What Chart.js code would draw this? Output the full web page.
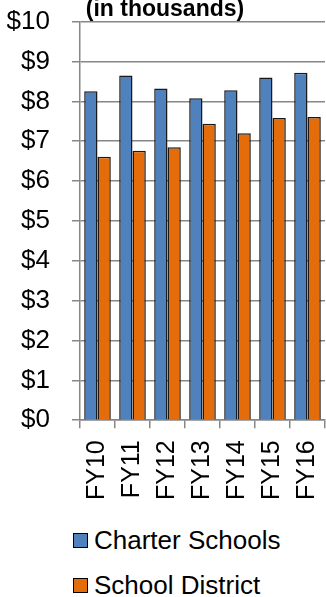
<!DOCTYPE html>
<html>
<head>
<meta charset="utf-8">
<script src="https://cdn.jsdelivr.net/npm/chart.js@4"></script>
<style>
    html, body { margin: 0; padding: 0; background: #fff; overflow: hidden; }
    body { width: 326px; height: 597px; position: relative; font-family: 'Liberation Sans', Arial, sans-serif; }
    #wrap { position: absolute; left: 0; top: -16px; width: 326px; height: 528px; }
    #legend { position: absolute; left: 73px; top: 518px; }
    .leg-item { display: flex; align-items: center; height: 45px; font-size: 26px; color: #000; }
    .leg-box { width: 15px; height: 15px; border: 1px solid #000; margin-right: 6px; box-sizing: border-box; }
</style>
</head>
<body>
<div id="wrap"><canvas id="spendChart"></canvas></div>
<div id="legend"></div>
<script>
    // 年度ごとの1人あたり支出（千ドル）
    const years = ['FY10', 'FY11', 'FY12', 'FY13', 'FY14', 'FY15', 'FY16'];
    const charterSchools = [8.25, 8.65, 8.32, 8.08, 8.28, 8.60, 8.72];
    const schoolDistrict = [6.61, 6.76, 6.85, 7.44, 7.20, 7.58, 7.61];
    const yTicks = [0, 1, 2, 3, 4, 5, 6, 7, 8, 9, 10];

    const FONT = "'Liberation Sans', Arial, sans-serif";
    const GRID = '#878787';

    const ctx = document.getElementById('spendChart').getContext('2d');
    const chart = new Chart(ctx, {
        type: 'bar',
        data: {
            labels: years,
            datasets: [
                { label: 'Charter Schools', data: charterSchools, backgroundColor: '#4f81bd', borderColor: '#1a1a1a', borderWidth: 1.5 },
                { label: 'School District', data: schoolDistrict, backgroundColor: '#e46c0a', borderColor: '#1a1a1a', borderWidth: 1.5 }
            ]
        },
        options: {
            responsive: true,
            maintainAspectRatio: false,
            animation: false,
            layout: { padding: { left: 5, right: 1 } },
            datasets: { bar: { categoryPercentage: 0.76, barPercentage: 1.0 } },
            plugins: {
                legend: { display: false },
                tooltip: { enabled: false },
                title: {
                    display: true,
                    text: '(in thousands)',
                    color: '#000',
                    font: { family: FONT, size: 23, weight: 'bold', lineHeight: 1.0 },
                    padding: { top: 0, bottom: 0 }
                }
            },
            scales: {
                x: {
                    // 回転ラベルによる左右の余白は不要なので消す
                    afterFit: axis => { axis.paddingLeft = 0; axis.paddingRight = 0; },
                    grid: { drawOnChartArea: false, drawTicks: true, tickLength: 8, color: GRID, lineWidth: 1.5 },
                    border: { color: GRID, width: 1.5 },
                    ticks: { color: '#000', font: { family: FONT, size: 25 }, minRotation: 90, maxRotation: 90, autoSkip: false, padding: 12 }
                },
                y: {
                    min: 0,
                    max: 10,
                    afterBuildTicks: axis => { axis.ticks = yTicks.map(v => ({ value: v })); },
                    // 軸の幅を固定して、プロット領域の左端を揃える
                    afterFit: axis => { axis.width = 75; },
                    grid: { color: GRID, lineWidth: 1.5, tickLength: 8 },
                    border: { color: GRID, width: 1.5 },
                    ticks: { color: '#000', font: { family: FONT, size: 26 }, padding: 22, callback: v => '$' + v }
                }
            }
        }
    });

    // 凡例は縦に2段、左揃えで並べる
    const legend = document.getElementById('legend');
    chart.data.datasets.forEach(ds => {
        const item = document.createElement('div');
        item.className = 'leg-item';
        const box = document.createElement('span');
        box.className = 'leg-box';
        box.style.background = ds.backgroundColor;
        const txt = document.createElement('span');
        txt.textContent = ds.label;
        item.appendChild(box);
        item.appendChild(txt);
        legend.appendChild(item);
    });
</script>
</body>
</html>
